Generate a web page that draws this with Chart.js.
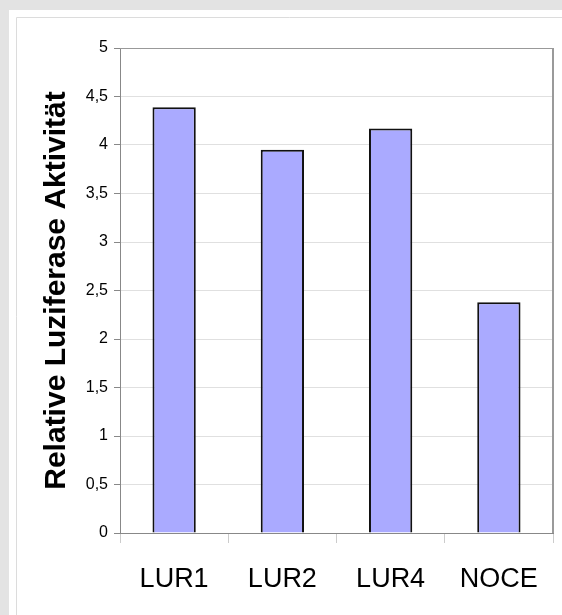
<!DOCTYPE html>
<html>
<head>
<meta charset="utf-8">
<script src="https://cdn.jsdelivr.net/npm/chart.js@4/dist/chart.umd.min.js"></script>
<style>
  html, body { margin: 0; padding: 0; background: #e3e3e3; }
  #wrap { width: 562px; height: 615px; position: relative; }
</style>
</head>
<body>
<div id="wrap"><canvas id="c" width="562" height="615"></canvas></div>
<script>
const categories = ['LUR1', 'LUR2', 'LUR4', 'NOCE'];
const values = [4.39, 3.95, 4.17, 2.38];
const yAxisTitle = 'Relative Luziferase Aktivität';
const yMin = 0, yMax = 5, yStep = 0.5;

const panelPlugin = {
  id: 'panel',
  beforeDraw(chart) {
    const ctx = chart.ctx;
    ctx.save();
    ctx.fillStyle = '#e3e3e3';
    ctx.fillRect(0, 0, chart.width, chart.height);
    ctx.fillStyle = '#ffffff';
    ctx.fillRect(9, 10, chart.width - 9, chart.height - 10);
    ctx.strokeStyle = '#dcdcdc';
    ctx.lineWidth = 1;
    ctx.beginPath();
    ctx.moveTo(16.5, chart.height);
    ctx.lineTo(16.5, 17.5);
    ctx.lineTo(chart.width, 17.5);
    ctx.stroke();
    ctx.restore();
  },
  afterDatasetsDraw(chart) {
    const {ctx, chartArea: a} = chart;
    ctx.save();
    ctx.strokeStyle = '#999999';
    ctx.lineWidth = 1;
    ctx.beginPath();
    ctx.moveTo(a.left, a.top + 0.5);
    ctx.lineTo(a.right, a.top + 0.5);
    ctx.stroke();
    ctx.lineWidth = 2;
    ctx.strokeStyle = '#9a9a9a';
    ctx.beginPath();
    ctx.moveTo(a.right, a.top);
    ctx.lineTo(a.right, a.bottom);
    ctx.stroke();
    ctx.restore();
  }
};

new Chart(document.getElementById('c'), {
  type: 'bar',
  data: {
    labels: categories,
    datasets: [{
      data: values,
      backgroundColor: '#aaaaff',
      borderColor: '#111111',
      borderWidth: 2,
      barPercentage: 0.4,
      categoryPercentage: 1.0
    }]
  },
  options: {
    responsive: false,
    animation: false,
    devicePixelRatio: 1,
    layout: { padding: { left: 0, top: 48, right: 9, bottom: 0 } },
    plugins: { legend: { display: false }, tooltip: { enabled: false } },
    scales: {
      x: {
        afterFit(s) { s.height = 82; },
        grid: {
          offset: true,
          drawOnChartArea: false,
          tickLength: 10,
          tickColor: '#cccccc'
        },
        border: { color: '#888888', width: 1 },
        ticks: {
          color: '#000000',
          padding: 20,
          font: { family: 'Liberation Sans, Arial, sans-serif', size: 27 }
        }
      },
      y: {
        min: yMin, max: yMax,
        afterFit(s) { s.width = 120; },
        grid: {
          color: '#e0e0e0',
          tickColor: '#888888',
          tickLength: 6
        },
        border: { color: '#888888', width: 1 },
        ticks: {
          stepSize: yStep,
          color: '#000000',
          padding: 6,
          font: { family: 'Liberation Sans, Arial, sans-serif', size: 16 },
          callback: v => String(v).replace('.', ',')
        },
        title: {
          display: true,
          text: yAxisTitle,
          color: '#000000',
          padding: { top: 39, bottom: 0 },
          font: { family: 'Liberation Sans, Arial, sans-serif', size: 30, weight: 'bold' }
        }
      }
    }
  },
  plugins: [panelPlugin]
});
</script>
</body>
</html>
